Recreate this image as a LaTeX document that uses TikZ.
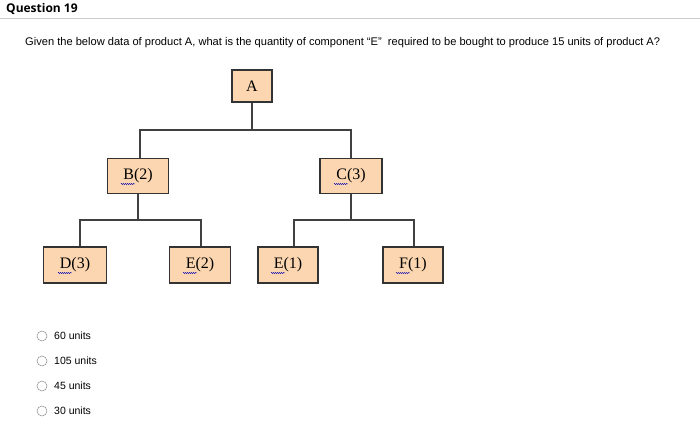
\documentclass[tikz,border=0pt]{standalone}
\usepackage{fontspec}
\setmainfont{Liberation Serif}
\newfontfamily\sansf{Liberation Sans}
\newfontfamily\headf{Open Sans}
\usetikzlibrary{decorations.pathmorphing}
\definecolor{boxfill}{RGB}{252,214,176}
\tikzset{
 bom/.style={draw=black!80,line width=1.2pt,fill=boxfill,minimum height=35pt,inner sep=0pt,font=\fontsize{16}{16}\selectfont},
 link/.style={draw=black!75,line width=1.2pt},
 opt/.style={anchor=west,font=\sansf\fontsize{10.5}{12}\selectfont,inner sep=0pt},
 radio/.style={draw=black!45,circle,minimum size=10pt,inner sep=0pt,line width=0.5pt},
 squig/.style={draw=blue!70!black,line width=0.4pt,decorate,decoration={snake,amplitude=0.6pt,segment length=2pt}}
}
\begin{document}
\begin{tikzpicture}[x=1pt,y=-1pt]
\useasboundingbox[fill=white] (0,0) rectangle (700,436);
\node[anchor=west,font=\headf\bfseries\fontsize{12}{13}\selectfont,inner sep=0pt] (q) at (6,9) {Question 19};
\draw[black!20,line width=0.8pt] (0,18) -- (700,18);
\node[anchor=west,font=\sansf\fontsize{11.1}{12}\selectfont,inner sep=0pt] (qt) at (25,43) {Given the below data of product A, what is the quantity of component “E”\ \ required to be bought to produce 15 units of product A?};
\node[bom,minimum width=40pt,minimum height=32pt] (A) at (252,86) {A};
\node[bom,minimum width=61pt] (B) at (138,176) {B(2)};
\node[bom,minimum width=62pt] (C) at (351,176) {C(3)};
\node[bom,minimum width=63pt,minimum height=36pt] (D) at (75,265) {D(3)};
\node[bom,minimum width=61pt,minimum height=36pt] (E2) at (200,265) {E(2)};
\node[bom,minimum width=60pt,minimum height=36pt] (E1) at (288,265) {E(1)};
\node[bom,minimum width=60pt,minimum height=36pt] (F) at (413,265) {F(1)};
\coordinate (ja) at (252,130);
\coordinate (jb) at (138,220);
\coordinate (jc) at (351,220);
\draw[link] (A.south) -- (ja);
\draw[link] (B.north -| 140,0) |- (ja) -| (C.north);
\draw[link] (B.south) -- (jb);
\draw[link] (D.north -| 80,0) |- (jb) -| (E2.north -| 201,0);
\draw[link] (C.south) -- (jc);
\draw[link] (E1.north -| 294,0) |- (jc) -| (F.north -| 414,0);
\foreach \n in {B,C,D,E2,E1,F}{
  \draw[squig] ([xshift=-17pt,yshift=-8pt]\n.center) -- ([xshift=-3pt,yshift=-8pt]\n.center);
}
\foreach \y/\t/\nm in {336/60 units/o1,361/105 units/o2,386/45 units/o3,411/30 units/o4}{
  \node[radio] (r\nm) at (42,\y) {};
  \node[opt] (\nm) at (54,\y) {\t};
}
\end{tikzpicture}
\end{document}
